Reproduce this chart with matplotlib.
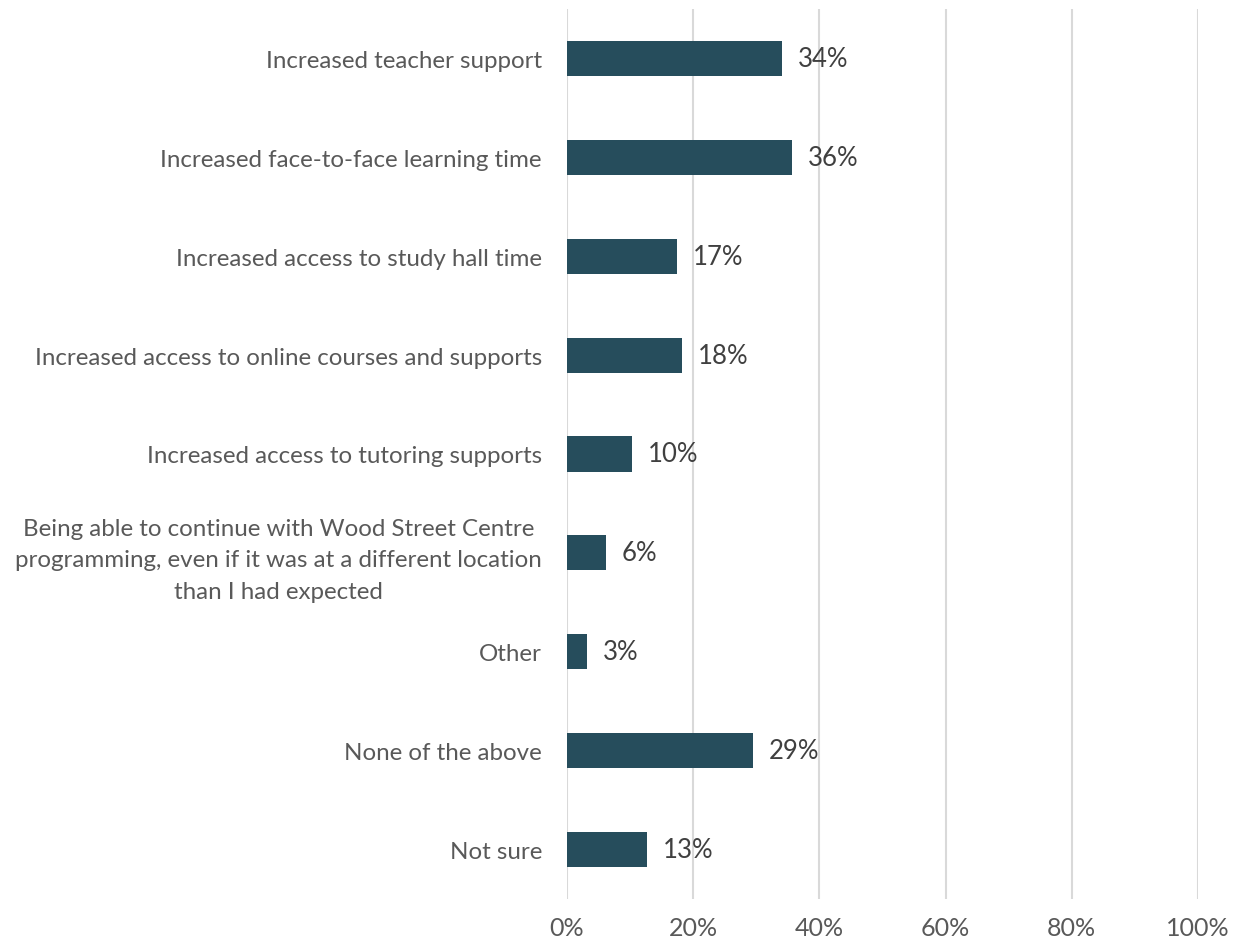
import matplotlib.pyplot as plt
from matplotlib.ticker import FuncFormatter

CATEGORIES = [
    "Increased teacher support",
    "Increased face-to-face learning time",
    "Increased access to study hall time",
    "Increased access to online courses and supports",
    "Increased access to tutoring supports",
    "Being able to continue with Wood Street Centre\nprogramming, even if it was at a different location\nthan I had expected",
    "Other",
    "None of the above",
    "Not sure",
]
VALUES = [34.1, 35.7, 17.4, 18.2, 10.3, 6.2, 3.2, 29.4, 12.7]
LABELS = ["34%", "36%", "17%", "18%", "10%", "6%", "3%", "29%", "13%"]
XTICKS = [0, 20, 40, 60, 80, 100]

BAR_COLOR = "#264d5c"
TEXT_COLOR = "#595959"
VALUE_COLOR = "#404040"
GRID_COLOR = "#d9d9d9"

plt.rcParams["font.family"] = ["Lato", "DejaVu Sans"]

fig = plt.figure(figsize=(12.5, 9.45), dpi=100)
ax = fig.add_axes([567 / 1250, 1 - 900 / 945, (1198 - 567) / 1250, 890 / 945])

y = list(range(len(CATEGORIES)))
ax.barh(y, VALUES, height=0.355, color=BAR_COLOR, zorder=3)
for yi, v, lab in zip(y, VALUES, LABELS):
    ax.annotate(lab, (v, yi), xytext=(11.5, 0), textcoords="offset points",
                va="center", ha="left", fontsize=18.5, color=VALUE_COLOR, zorder=4)

ax.set_xlim(0, 100)
ax.set_ylim(len(CATEGORIES) - 0.5, -0.5)
ax.set_xticks(XTICKS)
ax.xaxis.set_major_formatter(FuncFormatter(lambda v, _: f"{v:.0f}%"))
ax.set_yticks(y)
ax.set_yticklabels(CATEGORIES, ha="right", multialignment="center", linespacing=1.6)
ax.tick_params(axis="y", length=0, pad=18, labelsize=17.4, labelcolor=TEXT_COLOR)
ax.tick_params(axis="x", length=0, pad=12, labelsize=18, labelcolor=TEXT_COLOR)
ax.grid(axis="x", color=GRID_COLOR, lw=1.5, zorder=0)
for s in ax.spines.values():
    s.set_visible(False)

fig.savefig("out.png", dpi=100)
